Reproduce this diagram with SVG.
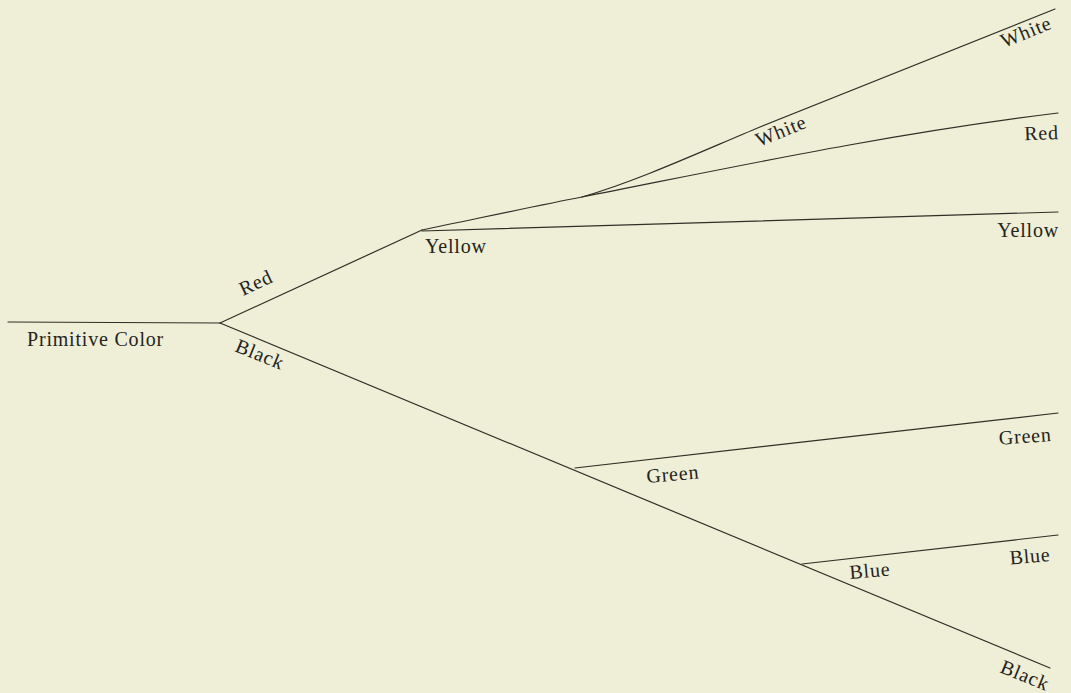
<svg xmlns="http://www.w3.org/2000/svg" width="1071" height="693" viewBox="0 0 1071 693">
<defs>
<style>
.l{fill:none;stroke:#2f2f27;stroke-width:1.2;stroke-linecap:round}
.t{font-family:"Liberation Serif","Times New Roman",serif;font-size:20px;letter-spacing:0.8px;fill:#24241d}
.e{text-anchor:end}
</style>
</defs>
<rect width="1071" height="693" fill="#efeed6"/>
<g id="connectors">
<path class="l" d="M8,322 L220,323"/>
<path class="l" d="M220,323 L422,230"/>
<path class="l" d="M220,323 L1050,668"/>
<path class="l" d="M422,230 C480,218 540,205 582,197 C720,170 880,135 1058,113"/>
<path class="l" d="M582,197 C640,180 700,152 760,127 L1055,9"/>
<path class="l" d="M422,231 L1058,212"/>
<path class="l" d="M575,468 L1058,413"/>
<path class="l" d="M802,564 L1058,535"/>
</g>
<g id="primitive"><text class="t" x="27" y="346">Primitive Color</text></g>
<g id="red"><text class="t" transform="translate(243,296) rotate(-25)">Red</text></g>
<g id="black"><text class="t" transform="translate(234,351) rotate(22)">Black</text></g>
<g id="yellow"><text class="t" x="425" y="253">Yellow</text></g>
<g id="white"><text class="t" transform="translate(759,147) rotate(-22)">White</text></g>
<g id="white-end"><text class="t" transform="translate(1004,48) rotate(-22)">White</text></g>
<g id="red-end"><text class="t e" transform="translate(1059,139) rotate(-2)">Red</text></g>
<g id="yellow-end"><text class="t e" x="1059" y="237">Yellow</text></g>
<g id="green"><text class="t" transform="translate(647,483) rotate(-5)">Green</text></g>
<g id="green-end"><text class="t e" transform="translate(1052,441) rotate(-4)">Green</text></g>
<g id="blue"><text class="t" transform="translate(850,579) rotate(-5)">Blue</text></g>
<g id="blue-end"><text class="t e" transform="translate(1051,561) rotate(-5)">Blue</text></g>
<g id="black-end"><text class="t" transform="translate(999,672) rotate(22)">Black</text></g>
</svg>
